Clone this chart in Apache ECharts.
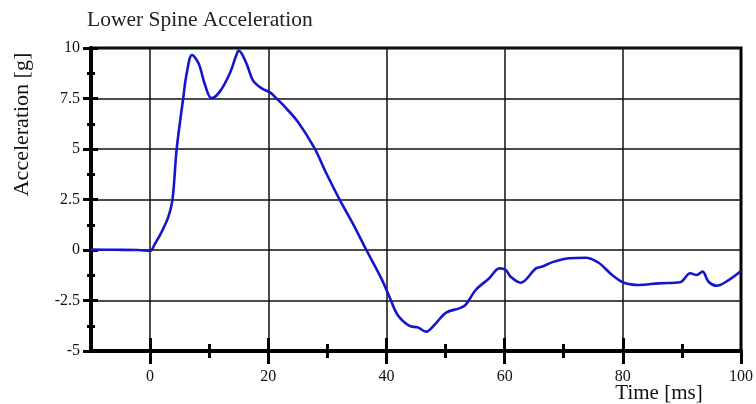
<!DOCTYPE html>
<html>
<head>
<meta charset="utf-8">
<script src="https://cdn.jsdelivr.net/npm/echarts@6/dist/echarts.min.js"></script>
<style>
  html, body { margin: 0; padding: 0; background: #fff; }
  #chart { width: 756px; height: 404px; }
</style>
</head>
<body>
<div id="chart"></div>
<script>
const timeMs = [
    -10, -6, -2, 0, 0.8, 1.6, 2.25, 3.1, 3.8, 4.5, 5.6, 6.2, 7.1, 8.2, 9.3,
    10.4, 11.8, 13.5, 14.6, 15.0, 16.3, 17.4, 18.9, 20.3, 21.4, 22.5, 25.0,
    27.8, 29.8, 32.1, 34.6, 36.6, 39.1, 40.5, 41.9, 43.9, 45.3, 46.7, 48.1,
    50.1, 52.3, 53.4, 55.1, 57.4, 59.1, 60.2, 61.0, 62.7, 65.3, 66.4, 68.1,
    70.9, 73.7, 75.9, 78.2, 80.2, 82.7, 86.1, 89.7, 91.4, 92.5, 93.5, 94.5,
    95.9, 97.9, 100
];
const accelG = [
    0.02, 0.01, 0.0, -0.05, 0.3, 0.7, 1.07, 1.65, 2.52, 5.0, 7.5, 8.75, 9.65,
    9.24, 8.17, 7.52, 7.84, 8.75, 9.65, 9.87, 9.24, 8.4, 8.0, 7.8, 7.5, 7.18,
    6.35, 5.05, 3.81, 2.48, 1.15, 0, -1.39, -2.31, -3.22, -3.76, -3.83, -4.04,
    -3.71, -3.10, -2.89, -2.72, -1.98, -1.40, -0.91, -0.99, -1.32, -1.62,
    -0.91, -0.82, -0.6, -0.41, -0.38, -0.63, -1.24, -1.62, -1.73, -1.65,
    -1.6, -1.15, -1.24, -1.07, -1.57, -1.77, -1.49, -1.04
];
const xMajorTicks = [0, 20, 40, 60, 80, 100];
const xGridTicks = [0, 20, 40, 60, 80];
const xMinorTicks = [10, 30, 50, 70, 90];

const serif = "Liberation Serif";
const chart = echarts.init(document.getElementById("chart"));

const points = timeMs.map((t, i) => [t, accelG[i]]);

function tickAxis(values, inside, length) {
    return {
        type: "value",
        position: "bottom",
        min: -10,
        max: 100,
        axisLine: { show: false, onZero: false },
        axisTick: {
            show: true,
            inside: inside,
            length: length,
            customValues: values,
            lineStyle: { color: "#000", width: 3 }
        },
        axisLabel: { show: false },
        splitLine: { show: false }
    };
}

chart.setOption({
    animation: false,
    title: {
        text: "Lower Spine Acceleration",
        left: 82,
        top: 4,
        textStyle: {
            fontFamily: serif,
            fontSize: 21.5,
            fontWeight: "normal",
            color: "#222"
        }
    },
    grid: {
        left: 91,
        right: 15,
        top: 48,
        bottom: 53,
        outerBoundsMode: "none",
        containLabel: false,
        show: true,
        borderColor: "#000",
        borderWidth: 3
    },
    xAxis: [
        {
            type: "value",
            position: "bottom",
            min: -10,
            max: 100,
            name: "Time [ms]",
            nameLocation: "middle",
            nameGap: 32,
            nameMoveOverlap: false,
            nameTextStyle: {
                fontFamily: serif,
                fontSize: 21,
                color: "#111",
                padding: [0, 0, 0, 486]
            },
            axisLine: { onZero: false, lineStyle: { color: "#000", width: 4 } },
            axisTick: {
                show: true,
                length: 13,
                customValues: xMajorTicks,
                lineStyle: { color: "#000", width: 3 }
            },
            axisLabel: {
                customValues: xMajorTicks,
                margin: 18,
                fontFamily: serif,
                fontSize: 16,
                color: "#111"
            },
            splitLine: { show: false }
        },
        Object.assign(tickAxis(xGridTicks, true, 13), {
            splitLine: { show: true, lineStyle: { color: "#111", width: 1.5 } }
        }),
        tickAxis(xMinorTicks, false, 7),
        tickAxis(xMinorTicks, true, 7)
    ],
    yAxis: [
        {
            type: "value",
            position: "left",
            min: -5,
            max: 10,
            interval: 2.5,
            name: "Acceleration [g]",
            nameLocation: "middle",
            nameGap: 58,
            nameMoveOverlap: false,
            nameTextStyle: {
                fontFamily: serif,
                fontSize: 22,
                color: "#111",
                padding: [0, 0, 0, 150]
            },
            axisLine: { show: true, onZero: false, lineStyle: { color: "#000", width: 4 } },
            axisTick: {
                show: true,
                inside: true,
                length: 7,
                lineStyle: { color: "#000", width: 3 }
            },
            minorTick: {
                show: true,
                splitNumber: 2,
                length: 4,
                lineStyle: { color: "#000", width: 3 }
            },
            axisLabel: {
                margin: 11,
                fontFamily: serif,
                fontSize: 16,
                color: "#111"
            },
            splitLine: { show: true, lineStyle: { color: "#111", width: 1.5 } }
        },
        {
            type: "value",
            position: "left",
            min: -5,
            max: 10,
            interval: 2.5,
            axisLine: { show: false, onZero: false },
            axisTick: {
                show: true,
                inside: false,
                length: 8,
                lineStyle: { color: "#000", width: 3 }
            },
            minorTick: {
                show: true,
                splitNumber: 2,
                length: 4,
                lineStyle: { color: "#000", width: 3 }
            },
            axisLabel: { show: false },
            splitLine: { show: false }
        }
    ],
    series: [
        {
            type: "line",
            xAxisIndex: 0,
            yAxisIndex: 0,
            data: points,
            smooth: 0.35,
            showSymbol: false,
            lineStyle: { color: "#1515cc", width: 2.6 },
            z: 5
        }
    ]
});
</script>
</body>
</html>
